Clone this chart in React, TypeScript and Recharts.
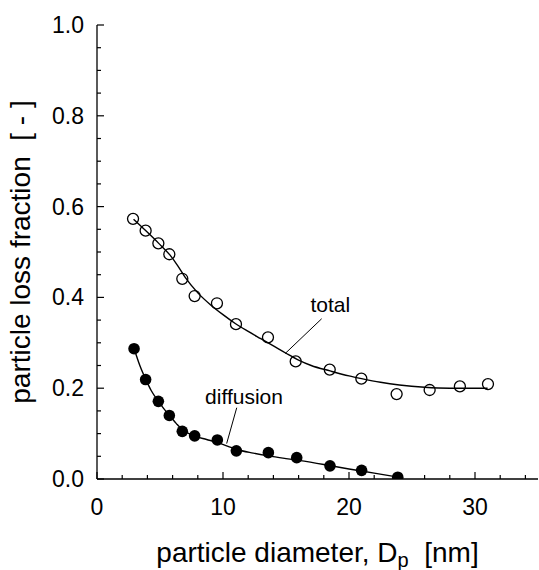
import {
  ComposedChart,
  Line,
  Scatter,
  XAxis,
  YAxis,
  ReferenceLine,
  ReferenceDot,
} from 'recharts'

const totalX = [2.86, 3.86, 4.87, 5.74, 6.77, 7.75, 9.52, 11.03, 13.57, 15.77, 18.47, 20.98, 23.78, 26.4, 28.8, 31.03]
const totalY = [0.573, 0.547, 0.519, 0.495, 0.441, 0.403, 0.387, 0.341, 0.312, 0.259, 0.241, 0.221, 0.187, 0.196, 0.204, 0.209]

const diffusionX = [2.94, 3.86, 4.87, 5.74, 6.77, 7.75, 9.55, 11.06, 13.6, 15.85, 18.49, 21.0, 23.87]
const diffusionY = [0.287, 0.219, 0.171, 0.14, 0.105, 0.095, 0.086, 0.062, 0.058, 0.047, 0.029, 0.019, 0.004]

// fitted curves
const totalFitX = [2.9, 3.9, 4.9, 5.8, 6.4, 7, 8, 9, 10, 11, 12, 13, 14, 15, 16, 17, 18.5, 20, 21, 22.5, 24, 26, 28, 31]
const totalFitY = [0.572, 0.546, 0.519, 0.493, 0.47, 0.444, 0.41, 0.384, 0.362, 0.342, 0.325, 0.309, 0.293, 0.277, 0.262, 0.25, 0.238, 0.227, 0.221, 0.213, 0.207, 0.202, 0.2, 0.2]

const diffusionFitX = [2.95, 3.4, 3.86, 4.3, 4.85, 5.3, 5.75, 6.3, 6.8, 7.3, 7.8, 8.7, 9.6, 10.4, 11.1, 12.4, 13.6, 15, 16, 18, 20, 22, 23.9]
const diffusionFitY = [0.287, 0.25, 0.22, 0.195, 0.172, 0.155, 0.14, 0.122, 0.108, 0.1, 0.094, 0.087, 0.08, 0.072, 0.065, 0.057, 0.051, 0.045, 0.041, 0.032, 0.022, 0.013, 0.004]

const xTicks = [0, 2, 4, 6, 8, 10, 12, 14, 16, 18, 20, 22, 24, 26, 28, 30, 32, 34]
const yTicks = [0, 0.05, 0.1, 0.15, 0.2, 0.25, 0.3, 0.35, 0.4, 0.45, 0.5, 0.55, 0.6, 0.65, 0.7, 0.75, 0.8, 0.85, 0.9, 0.95, 1.0]

const totalPts = totalX.map((x, i) => ({ x, y: totalY[i] }))
const diffusionPts = diffusionX.map((x, i) => ({ x, y: diffusionY[i] }))
const totalFit = totalFitX.map((x, i) => ({ x, y: totalFitY[i] }))
const diffusionFit = diffusionFitX.map((x, i) => ({ x, y: diffusionFitY[i] }))

const FONT = '"Liberation Sans", Arial, Helvetica, sans-serif'
const INK = '#000'

const isMajorX = (v: number) => v % 10 === 0
const isMajorY = (v: number) => Math.abs(v * 5 - Math.round(v * 5)) < 1e-6

function BottomTick({ x, y, payload }: any) {
  const major = isMajorX(payload.value)
  return (
    <g>
      <line x1={x} y1={y} x2={x} y2={y - (major ? 7 : 4)} stroke={INK} strokeWidth={1.2} />
      {major && (
        <text x={x} y={y + 36} textAnchor="middle" fontSize={23} fontFamily={FONT} fill={INK}>
          {payload.value}
        </text>
      )}
    </g>
  )
}

function TopTick({ x, y, payload }: any) {
  const major = isMajorX(payload.value)
  return <line x1={x} y1={y} x2={x} y2={y + (major ? 7 : 4)} stroke={INK} strokeWidth={1.2} />
}

function LeftTick({ x, y, payload }: any) {
  const major = isMajorY(payload.value)
  return (
    <g>
      <line x1={x} y1={y} x2={x + (major ? 7 : 4)} y2={y} stroke={INK} strokeWidth={1.2} />
      {major && (
        <text x={x - 13} y={y + 8} textAnchor="end" fontSize={23} fontFamily={FONT} fill={INK}>
          {payload.value.toFixed(1)}
        </text>
      )}
    </g>
  )
}

function RightTick({ x, y, payload }: any) {
  const major = isMajorY(payload.value)
  return <line x1={x} y1={y} x2={x - (major ? 7 : 4)} y2={y} stroke={INK} strokeWidth={1.2} />
}

const OpenDot = ({ cx, cy }: any) => (
  <circle cx={cx} cy={cy} r={5.5} fill="none" stroke={INK} strokeWidth={1.3} />
)
const FilledDot = ({ cx, cy }: any) => <circle cx={cx} cy={cy} r={5.8} fill={INK} />

const note = (text: string) => ({ cx, cy }: any) => (
  <text x={cx} y={cy} textAnchor="middle" fontSize={21} fontFamily={FONT} fill={INK}>
    {text}
  </text>
)

function XLabel({ viewBox }: any) {
  const cx = viewBox.x + viewBox.width / 2
  return (
    <text x={cx} y={562} textAnchor="middle" fontSize={28} fontFamily={FONT} fill={INK}>
      particle diameter, D
      <tspan fontSize={20} dy={5}>p</tspan>
      <tspan dy={-5}>{'\u00a0\u00a0[nm]'}</tspan>
    </text>
  )
}

function YLabel({ viewBox }: any) {
  const cy = viewBox.y + viewBox.height / 2
  const cx = 30
  return (
    <text
      x={cx}
      y={cy}
      transform={`rotate(-90, ${cx}, ${cy})`}
      textAnchor="middle"
      fontSize={28}
      fontFamily={FONT}
      fill={INK}
    >
      {'particle loss fraction\u00a0\u00a0[ - ]'}
    </text>
  )
}

export default function App() {
  return (
    <div style={{ position: 'fixed', left: 0, top: 0, background: '#fff' }}>
      <ComposedChart width={539} height={570} margin={{ top: 25, right: 1, bottom: 0, left: 0 }}>
        <XAxis
          xAxisId="b"
          dataKey="x"
          type="number"
          domain={[0, 35]}
          ticks={xTicks}
          interval={0}
          tickSize={0}
          tickMargin={0}
          tick={<BottomTick />}
          tickLine={false}
          axisLine={{ stroke: INK, strokeWidth: 1.3 }}
          height={91}
          label={<XLabel />}
          allowDataOverflow
        />
        <XAxis
          xAxisId="t"
          orientation="top"
          type="number"
          domain={[0, 35]}
          ticks={xTicks}
          interval={0}
          tickSize={0}
          tickMargin={0}
          tick={<TopTick />}
          tickLine={false}
          axisLine={{ stroke: INK, strokeWidth: 1.3 }}
          height={0}
          allowDataOverflow
        />
        <YAxis
          yAxisId="l"
          dataKey="y"
          type="number"
          domain={[0, 1]}
          ticks={yTicks}
          interval={0}
          tickSize={0}
          tickMargin={0}
          tick={<LeftTick />}
          tickLine={false}
          axisLine={{ stroke: INK, strokeWidth: 1.3 }}
          width={97}
          label={<YLabel />}
          allowDataOverflow
        />
        <YAxis
          yAxisId="r"
          orientation="right"
          type="number"
          domain={[0, 1]}
          ticks={yTicks}
          interval={0}
          tickSize={0}
          tickMargin={0}
          tick={<RightTick />}
          tickLine={false}
          axisLine={{ stroke: INK, strokeWidth: 1.3 }}
          width={0}
          allowDataOverflow
        />

        <Line
          xAxisId="b"
          yAxisId="l"
          data={totalFit}
          dataKey="y"
          type="monotone"
          stroke={INK}
          strokeWidth={1.4}
          dot={false}
          activeDot={false}
          isAnimationActive={false}
        />
        <Line
          xAxisId="b"
          yAxisId="l"
          data={diffusionFit}
          dataKey="y"
          type="monotone"
          stroke={INK}
          strokeWidth={1.4}
          dot={false}
          activeDot={false}
          isAnimationActive={false}
        />
        <Scatter
          xAxisId="b"
          yAxisId="l"
          data={totalPts}
          dataKey="y"
          shape={OpenDot}
          isAnimationActive={false}
        />
        <Scatter
          xAxisId="b"
          yAxisId="l"
          data={diffusionPts}
          dataKey="y"
          shape={FilledDot}
          isAnimationActive={false}
        />

        <ReferenceLine
          xAxisId="b"
          yAxisId="l"
          segment={[{ x: 17.83, y: 0.353 }, { x: 14.92, y: 0.276 }]}
          stroke={INK}
          strokeWidth={1}
        />
        <ReferenceLine
          xAxisId="b"
          yAxisId="l"
          segment={[{ x: 11.09, y: 0.157 }, { x: 10.29, y: 0.078 }]}
          stroke={INK}
          strokeWidth={1}
        />
        <ReferenceDot xAxisId="b" yAxisId="l" x={18.52} y={0.367} r={0} shape={note('total')} />
        <ReferenceDot xAxisId="b" yAxisId="l" x={11.67} y={0.165} r={0} shape={note('diffusion')} />
      </ComposedChart>
    </div>
  )
}
